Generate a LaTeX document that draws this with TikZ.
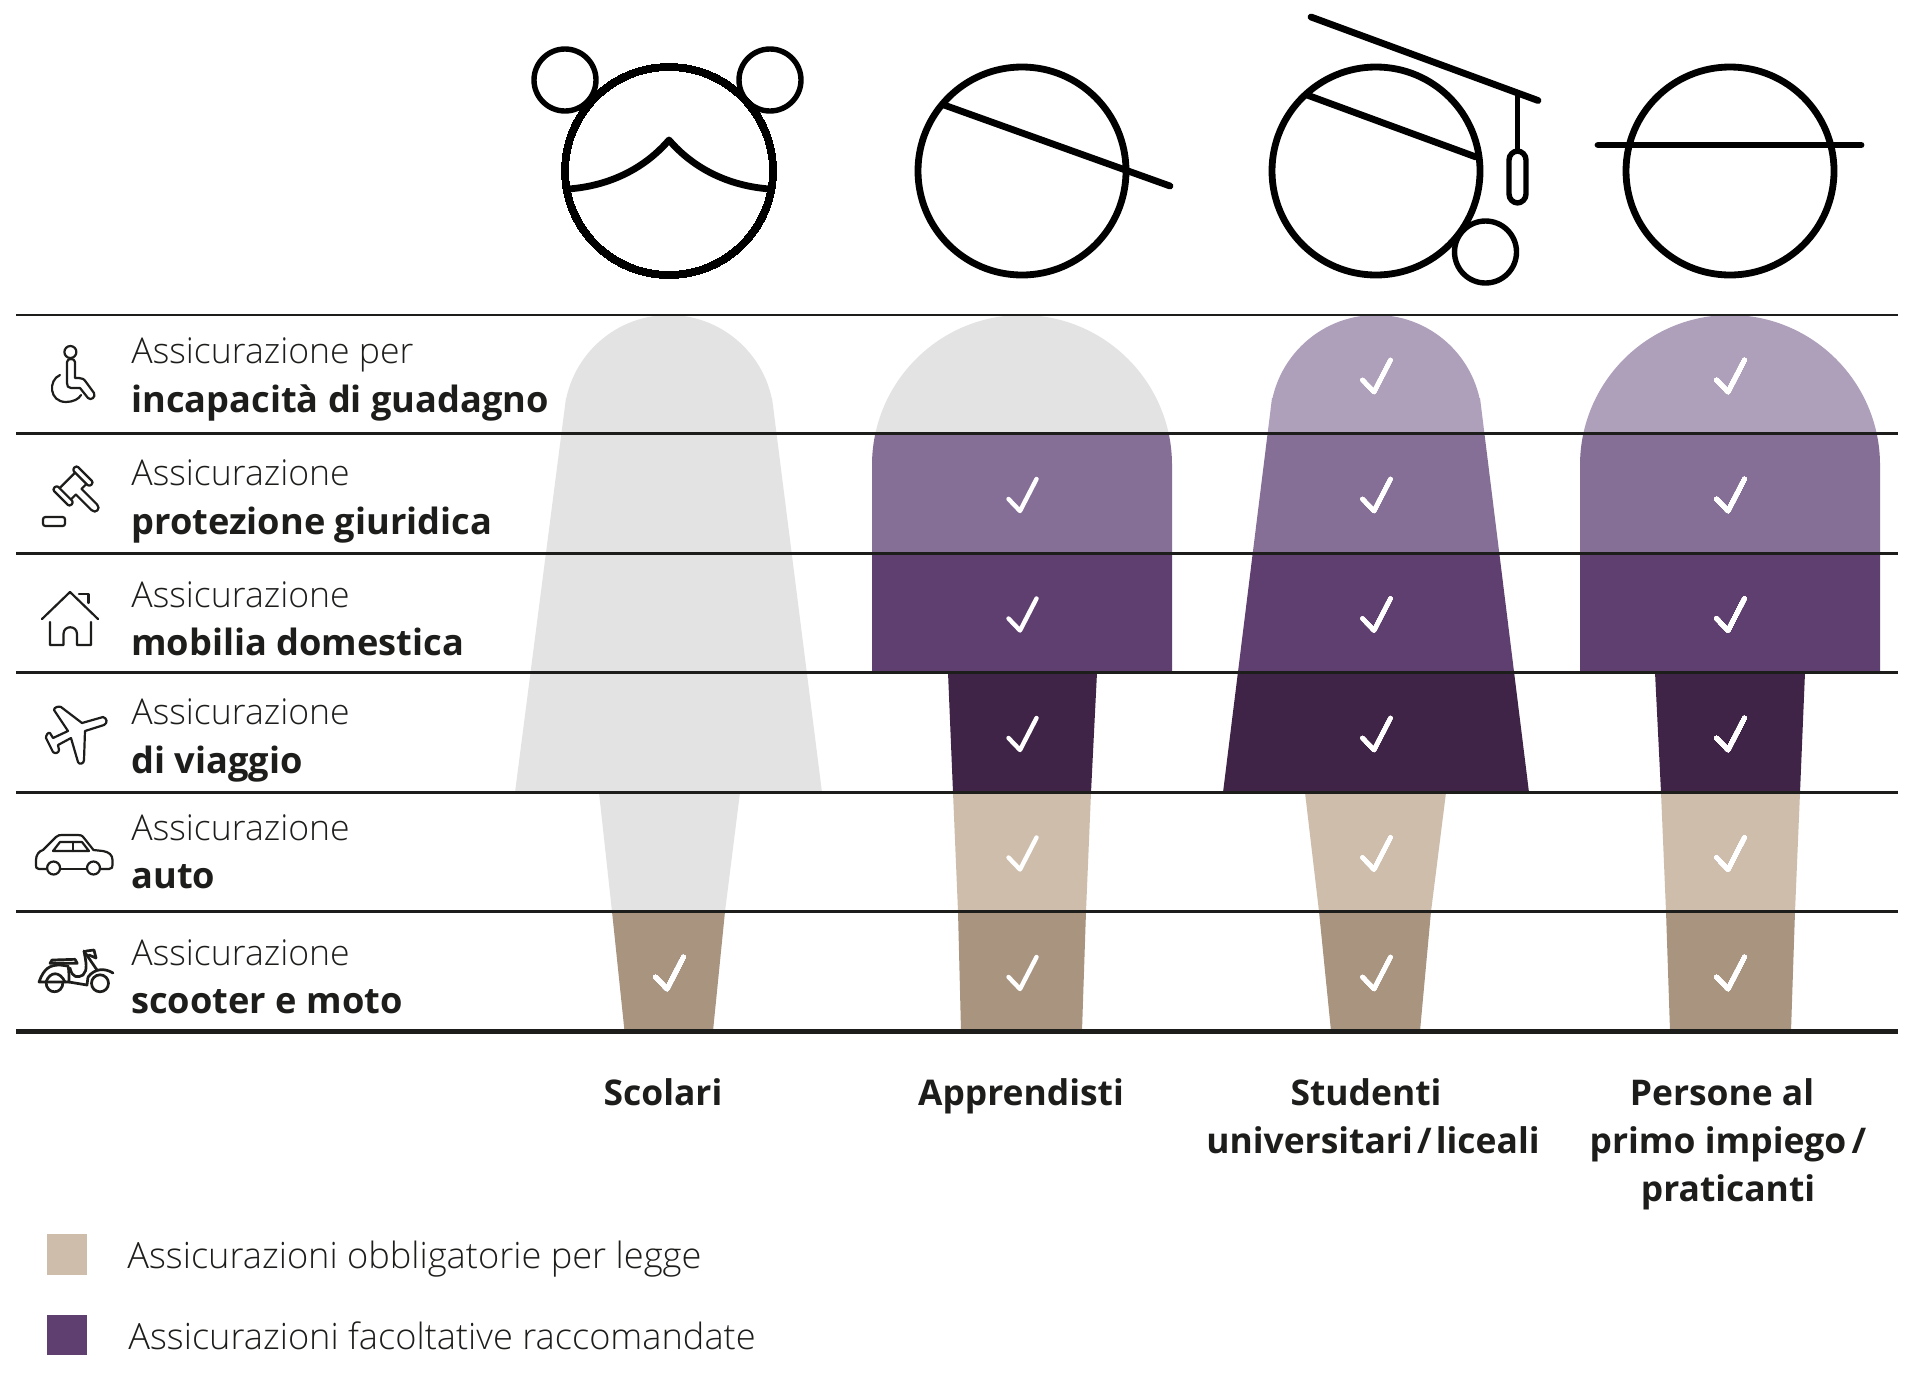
\documentclass[tikz,border=0pt]{standalone}
\usepackage{fontspec}
\setmainfont{Open Sans Light}[BoldFont={Open Sans Bold}]
\definecolor{cgrey}{HTML}{E3E3E3}
\definecolor{cA}{HTML}{AE9FBB}
\definecolor{cB}{HTML}{866F96}
\definecolor{cC}{HTML}{5F3F70}
\definecolor{cD}{HTML}{3F2447}
\definecolor{cE}{HTML}{CDBDAA}
\definecolor{cF}{HTML}{A8947F}
\definecolor{ink}{HTML}{1D1D1B}
\newcommand{\domepath}[4]{({#1-#2},{#3+#4}) .. controls ({#1-#2},{#3+.45*#4}) and ({#1-.5523*#2},#3) .. (#1,#3) .. controls ({#1+.5523*#2},#3) and ({#1+#2},{#3+.45*#4}) .. ({#1+#2},{#3+#4})}
\newcommand{\chk}[2]{\draw[chkline] ({#1-13.5},{#2+6}) -- ({#1-2},{#2+18}) -- ({#1+14.5},{#2-14});}
\tikzset{
 x=0.5pt,y=-0.5pt,
 chkline/.style={draw=white,line width=2.2pt,line cap=round,line join=round},
 rulefine/.style={draw=ink,line width=1.2pt},
 rulebold/.style={draw=ink,line width=2.4pt},
 face/.style={draw=black,line width=3.4pt},
 facethin/.style={draw=black,line width=2.7pt},
 faceline/.style={draw=black,line width=3.4pt,line cap=round,line join=round},
 icon/.style={draw=ink,line width=1.1pt,line cap=round,line join=round},
 iconheavy/.style={draw=ink,line width=1.35pt,line cap=round,line join=round},
 rowreg/.style={anchor=base west,inner sep=0pt,font=\fontsize{17.8}{20}\selectfont,text=ink},
 rowbold/.style={anchor=base west,inner sep=0pt,font=\fontsize{18.1}{20}\selectfont\bfseries,text=ink},
 collab/.style={anchor=base,inner sep=0pt,font=\fontsize{17.7}{20}\selectfont\bfseries,text=ink},
 legendtxt/.style={anchor=base west,inner sep=0pt,font=\fontsize{18.1}{20}\selectfont,text=ink},
}
\begin{document}
\begin{tikzpicture}
\useasboundingbox (0,0) rectangle (1920,1382);
\fill[white] (0,0) rectangle (1920,1382);
% ---------- column 1
\fill[cgrey] \domepath{669}{105}{315}{105} -- cycle (566,398) -- (772,398) -- (822,792.5) -- (515,792.5) -- cycle;
\fill[cgrey] (599,792.5) -- (740,792.5) -- (725,911.5) -- (612,911.5) -- cycle;
\fill[cF] (612,911.5) -- (725,911.5) -- (713,1031) -- (624.5,1031) -- cycle;
% ---------- column 2
\begin{scope}
\clip \domepath{1022}{150}{315}{150} -- (1172,672.5) -- (872,672.5) -- cycle;
\fill[cgrey] (860,310) rectangle (1180,433.5);
\fill[cB] (860,433.5) rectangle (1180,553.5);
\fill[cC] (860,553.5) rectangle (1180,672.5);
\end{scope}
\fill[cD] (948,672.5) -- (1097,672.5) -- (1091,792.5) -- (953,792.5) -- cycle;
\fill[cE] (953,792.5) -- (1091,792.5) -- (1086,911.5) -- (958,911.5) -- cycle;
\fill[cF] (958,911.5) -- (1086,911.5) -- (1082,1031) -- (961,1031) -- cycle;
% ---------- column 3
\begin{scope}
\clip \domepath{1376}{106}{315}{106} -- cycle (1272,398) -- (1480,398) -- (1529,792.5) -- (1223,792.5) -- cycle;
\fill[cA] (1200,310) rectangle (1550,433.5);
\fill[cB] (1200,433.5) rectangle (1550,553.5);
\fill[cC] (1200,553.5) rectangle (1550,672.5);
\fill[cD] (1200,672.5) rectangle (1550,792.5);
\end{scope}
\fill[cE] (1305,792.5) -- (1446,792.5) -- (1431,911.5) -- (1319,911.5) -- cycle;
\fill[cF] (1319,911.5) -- (1431,911.5) -- (1420,1031) -- (1331,1031) -- cycle;
% ---------- column 4
\begin{scope}
\clip \domepath{1730}{150}{315}{150} -- (1880,672.5) -- (1580,672.5) -- cycle;
\fill[cA] (1570,310) rectangle (1890,433.5);
\fill[cB] (1570,433.5) rectangle (1890,553.5);
\fill[cC] (1570,553.5) rectangle (1890,672.5);
\end{scope}
\fill[cD] (1655,672.5) -- (1805,672.5) -- (1800,792.5) -- (1661,792.5) -- cycle;
\fill[cE] (1661,792.5) -- (1800,792.5) -- (1795,911.5) -- (1666,911.5) -- cycle;
\fill[cF] (1666,911.5) -- (1795,911.5) -- (1791,1031) -- (1670,1031) -- cycle;
% ---------- rules
\foreach \yy in {315,433.5,553.5,672.5,792.5,911.5} \draw[rulefine] (16,\yy) -- (1898,\yy);
\draw[rulebold] (16,1031.5) -- (1898,1031.5);
% ---------- checks
\foreach \yy in {493,612.5,732,851.5,971} \chk{1022}{\yy}
\foreach \yy in {374,493,612.5,732,851.5,971} \chk{1376}{\yy}
\foreach \yy in {374,493,612.5,732,851.5,971} \chk{1730}{\yy}
\chk{669}{971}
% ---------- faces
\draw[face] (669,171) circle[radius=104];
\draw[facethin] (565,80) circle[radius=31];
\draw[facethin] (770,80) circle[radius=31];
\draw[faceline] (568,189) .. controls (610,186) and (645,168) .. (669,140) .. controls (693,168) and (728,186) .. (770,189);
\draw[face] (1022,171) circle[radius=104];
\draw[faceline] (944,105) -- (1170,186);
\draw[face] (1376,171) circle[radius=104];
\draw[faceline] (1307,95) -- (1476,157);
\draw[faceline] (1311,17) -- (1538,100.5);
\draw[facethin] (1517.5,95) -- (1517.5,151);
\draw[facethin,rounded corners=4.5pt] (1509,151) rectangle (1526,203);
\draw[facethin] (1485.5,252) circle[radius=31];
\draw[face] (1730,171) circle[radius=104];
\draw[faceline] (1598,145) -- (1861,145);
% ---------- icons
% wheelchair
\draw[icon] (70.4,352) circle[radius=6];
\draw[icon] (67,362) -- (67,383) .. controls (67,386) and (68,388) .. (71,388) -- (80,388) -- (88,398) .. controls (91,401) and (96,397) .. (94,393) -- (86,382) .. controls (84,379) and (82,378) .. (79,378) -- (75,378) -- (75,362) .. controls (75,358) and (67,358) .. (67,362);
\draw[icon] (60,375) .. controls (48,380) and (49,402) .. (66,402) .. controls (73,402) and (79,399) .. (81,395);
% gavel
\begin{scope}[shift={(73,486)},rotate=-45]
\draw[icon,rounded corners=1.2pt] (-12,-17) rectangle (12,-11);
\draw[icon,rounded corners=1.2pt] (-12,11) rectangle (12,17);
\draw[icon] (-8,-11) -- (-8,11);
\draw[icon] (8,-11) -- (8,-4) -- (30,-4) .. controls (36,-4) and (36,4) .. (30,4) -- (8,4) -- (8,11);
\end{scope}
\draw[icon,rounded corners=1.2pt] (43,517) rectangle (65,526);
% house
\draw[icon] (42,619) -- (70,592) -- (98,619);
\draw[icon] (79,594) -- (88.5,594) -- (88.5,603);
\draw[icon] (50,622) -- (50,645) -- (63.5,645) -- (63.5,634) .. controls (63.5,625) and (77,625) .. (77,634) -- (77,645) -- (91,645) -- (91,622);
% plane
\draw[icon] (103,717) .. controls (107,718) and (108,723) .. (104,725) -- (85,731) -- (84,760) .. controls (84,764) and (79,765) .. (78,762) -- (71,738) -- (58,745) -- (59,750) .. controls (59,753) and (55,754) .. (53,752) -- (46,738) .. controls (46,735) and (48,732) .. (50,733) -- (53,738) -- (68,731) -- (54,710) .. controls (54,707) and (59,706) .. (61,707) -- (82,723) -- cycle;
% car
\draw[icon] (46,869) -- (39,869) .. controls (36,869) and (36,867) .. (36,865) -- (36,860) .. controls (36,855) and (39,851) .. (43,850) -- (56,837) .. controls (58,835) and (60,835) .. (62,835) -- (78,835) .. controls (80,835) and (82,835) .. (84,838) -- (93.5,850) -- (103,851) .. controls (109,852) and (112.5,855) .. (112.5,860) -- (112.5,865) .. controls (112.5,867) and (112,869) .. (109,869) -- (101,869);
\draw[icon] (53.6,868) circle[radius=6.5];
\draw[icon] (93.5,868) circle[radius=6.5];
\draw[icon] (61,869) -- (86,869);
\draw[icon] (53,851) -- (60,842) -- (82,842) -- (89,851) -- cycle;
\draw[icon] (73,842) -- (73,851);
% scooter
\draw[iconheavy] (50,963.3) -- (52,960) -- (75,959.3) -- (77.3,963.3) -- cycle;
\draw[iconheavy] (39,982) .. controls (44,968) and (50,965) .. (60,965) -- (68,966) .. controls (69,970) and (69,976) .. (69,982) -- cycle;
\draw[iconheavy] (46,982) .. controls (50,971) and (60,971) .. (65,982);
\draw[iconheavy] (46,982) .. controls (46,995) and (63,995) .. (63,982);
\draw[iconheavy] (69,982) -- (87,985) -- (88,977);
\draw[iconheavy] (70,968) .. controls (72,978) and (78,978) .. (83,975) .. controls (88,970) and (86,962) .. (84,951);
\draw[iconheavy] (84,951) -- (97,970);
\draw[iconheavy] (88,977) .. controls (95,968) and (105,968) .. (113,973);
\draw[iconheavy] (86,951) -- (94,950) -- (96,958) -- (89,955);
\draw[iconheavy] (100,983.3) circle[radius=8.5];
% ---------- row labels
\node[rowreg]  (r1a) at (131,363.5) {Assicurazione per};
\node[rowbold] (r1b) at (131,412) {incapacità di guadagno};
\node[rowreg]  (r2a) at (131,485.5) {Assicurazione};
\node[rowbold] (r2b) at (131,534) {protezione giuridica};
\node[rowreg]  (r3a) at (131,607.5) {Assicurazione};
\node[rowbold] (r3b) at (131,655) {mobilia domestica};
\node[rowreg]  (r4a) at (131,724.5) {Assicurazione};
\node[rowbold] (r4b) at (131,773) {di viaggio};
\node[rowreg]  (r5a) at (131,840.5) {Assicurazione};
\node[rowbold] (r5b) at (131,888) {auto};
\node[rowreg]  (r6a) at (131,965) {Assicurazione};
\node[rowbold] (r6b) at (131,1013) {scooter e moto};
% ---------- column labels
\node[collab] (c1) at (663,1105) {Scolari};
\node[collab] (c2) at (1021,1105) {Apprendisti};
\node[collab] (c3a) at (1366,1105) {Studenti};
\node[collab] (c3b) at (1373,1153) {universitari\hspace{.12em}/\hspace{.12em}liceali};
\node[collab] (c4a) at (1722,1105) {Persone al};
\node[collab] (c4b) at (1728,1153) {primo impiego\hspace{.15em}/};
\node[collab] (c4c) at (1728,1201) {praticanti};
% ---------- legend
\fill[cE] (46.5,1234) rectangle (87,1275);
\fill[cC] (46.5,1315) rectangle (87,1355);
\node[legendtxt] (l1) at (127,1268) {Assicurazioni obbligatorie per legge};
\node[legendtxt] (l2) at (128,1349) {Assicurazioni facoltative raccomandate};
\end{tikzpicture}
\end{document}
